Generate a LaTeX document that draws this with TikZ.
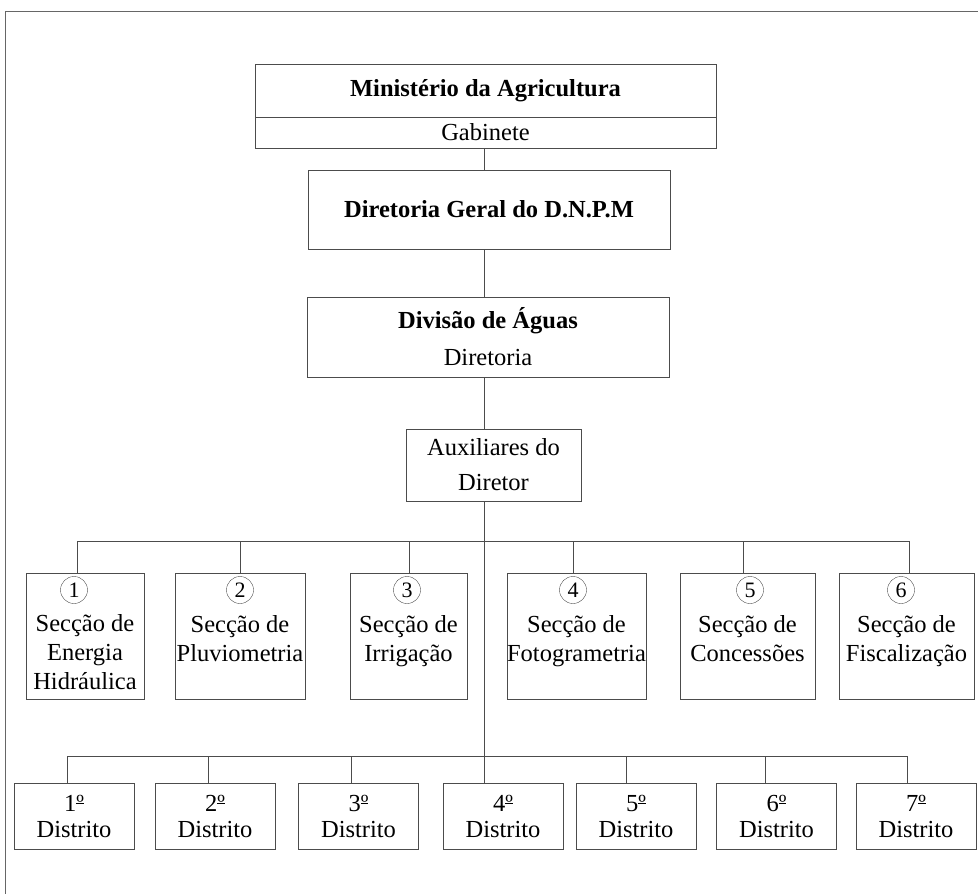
\documentclass[tikz,border=0pt]{standalone}
\usepackage{fontspec}
\setmainfont{Liberation Serif}
\newcommand{\ordo}{º\llap{\rule[7pt]{7.5pt}{0.9pt}}}

\begin{document}
\begin{tikzpicture}[x=1pt,y=-1pt,font=\fontsize{24.5}{29}\selectfont,
  box/.style={draw=black!70,inner sep=0pt,align=center},
  num/.style={draw=black!70,circle,minimum size=27pt,inner sep=0pt,font=\fontsize{22}{22}\selectfont},
  wire/.style={draw=black!70}]
\useasboundingbox (0,0) rectangle (978,894);
\draw[black!60] (5,894) -- (5,11) -- (978,11);
\coordinate (spine) at (484,0);
% head of the chart
\node[box,minimum width=461pt,minimum height=53pt] (minist) at (485.5,90.5) {\textbf{Ministério da Agricultura}};
\node[box,minimum width=461pt,minimum height=31pt] (gab) at (485.5,132.5) {Gabinete};
\node[box,minimum width=362pt,minimum height=79pt] (dnpm) at (489,209.5) {\textbf{Diretoria Geral do D.N.P.M}};
\node[box,minimum width=362pt,minimum height=80pt] (agua) at (488,337) {\textbf{Divisão de Águas}\\[8pt]Diretoria};
\node[box,minimum width=175pt,minimum height=72pt] (aux) at (493.5,465) {Auxiliares do\\[6pt]Diretor};
\draw[wire] (gab.south -| spine) -- (dnpm.north -| spine);
\draw[wire] (dnpm.south -| spine) -- (agua.north -| spine);
\draw[wire] (agua.south -| spine) -- (aux.north -| spine);
% seccoes
\foreach \i/\cx/\w/\dx/\nx/\txt in {1/85/118/77/74/{Energia\\Hidráulica},2/240/130/240/240/{Pluviometria\\ \mbox{}},
  3/408.5/117/409/407/{Irrigação\\ \mbox{}},4/576.5/135/573/573/{Fotogrametria\\ \mbox{}},
  5/747.5/135/743/750/{Concessões\\ \mbox{}},6/906.5/135/909/901/{Fiscalização\\ \mbox{}}}
 {\coordinate (s\i) at (\dx,541);
  \node[box,minimum width=\w pt,minimum height=126pt] (sec\i) at (\cx,636) {\rule{0pt}{50pt}Secção de\\\txt};
  \node[num] (n\i) at (\nx,590) {\i};
  \draw[wire] (s\i) -- (s\i |- sec\i.north);}
\draw[wire] (s1) -- (s6);
% distritos
\foreach \i/\cx/\dx in {1/74/67,2/215/208,3/358.5/351,4/503/484,5/636/626,6/776.5/765,7/916/907}
 {\coordinate (d\i) at (\dx,756);
  \node[box,minimum width=120pt,minimum height=66pt] (dist\i) at (\cx,816) {\i\ordo\\[-3pt]Distrito};
  \draw[wire] (d\i) -- (d\i |- dist\i.north);}
\draw[wire] (d1) -- (d7);
\draw[wire] (aux.south -| spine) -- (dist4.north -| spine);
\end{tikzpicture}
\end{document}
